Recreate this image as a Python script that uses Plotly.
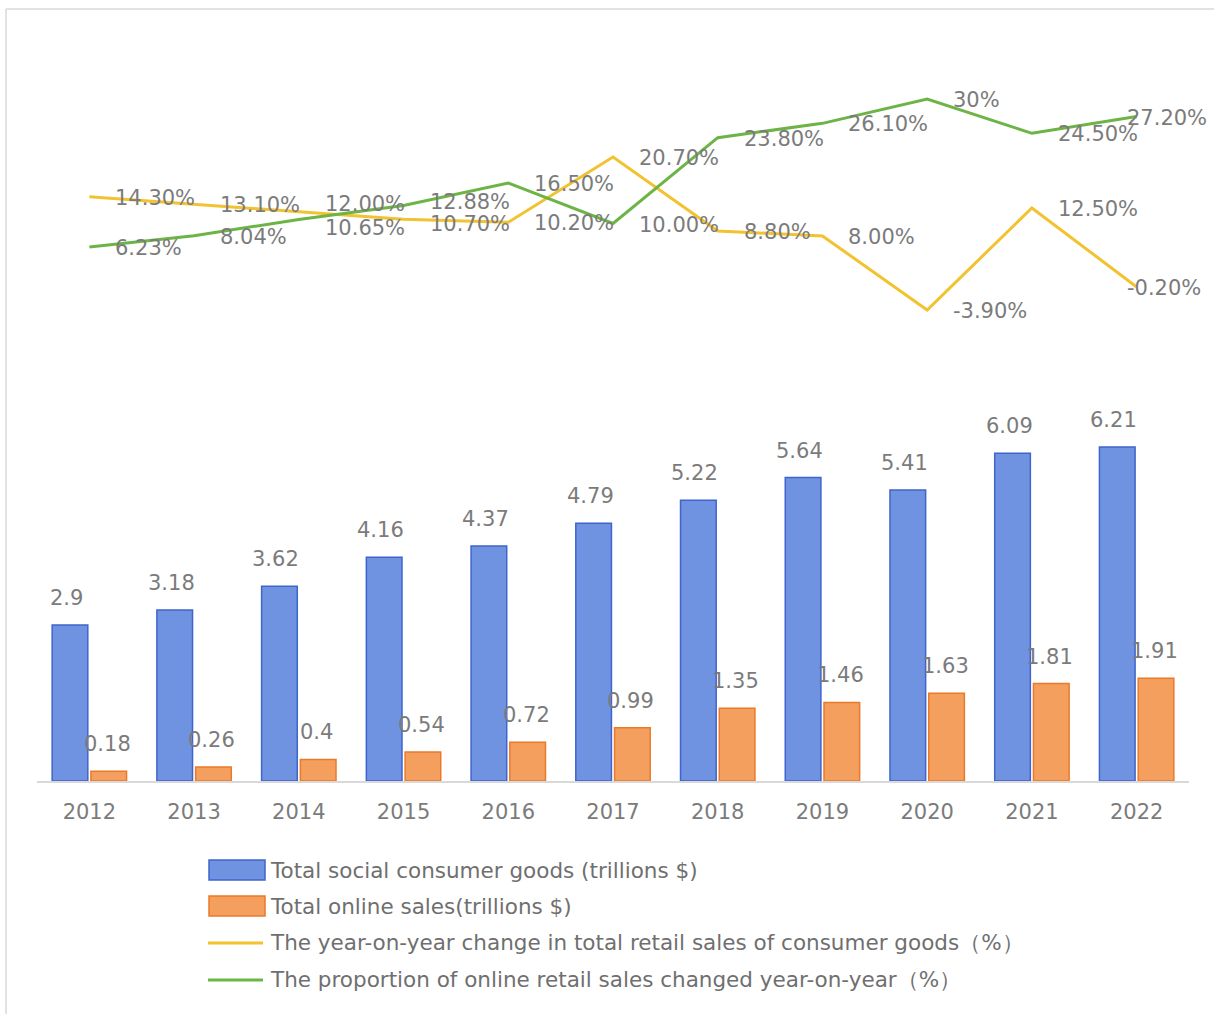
import plotly.graph_objects as go

years = ["2012", "2013", "2014", "2015", "2016", "2017", "2018", "2019", "2020", "2021", "2022"]
total_goods = [2.9, 3.18, 3.62, 4.16, 4.37, 4.79, 5.22, 5.64, 5.41, 6.09, 6.21]
online_sales = [0.18, 0.26, 0.4, 0.54, 0.72, 0.99, 1.35, 1.46, 1.63, 1.81, 1.91]
retail_yoy = [14.30, 13.10, 12.00, 10.70, 10.20, 20.70, 8.80, 8.00, -3.90, 12.50, -0.20]
online_share_yoy = [6.23, 8.04, 10.65, 12.88, 16.50, 10.00, 23.80, 26.10, 30.00, 24.50, 27.20]
retail_yoy_labels = ["14.30%", "13.10%", "12.00%", "10.70%", "10.20%", "20.70%", "8.80%", "8.00%", "-3.90%", "12.50%", "-0.20%"]
online_share_labels = ["6.23%", "8.04%", "10.65%", "12.88%", "16.50%", "10.00%", "23.80%", "26.10%", "30%", "24.50%", "27.20%"]

names = [
    "Total social consumer goods (trillions $)",
    "Total online sales(trillions $)",
    "The year-on-year change in total retail sales of consumer goods\uff08%\uff09",
    "The proportion of online retail sales changed year-on-year\uff08%\uff09",
]

W, H = 1218, 1014
ML, MR, MT, MB = 37, 29, 60, 233
plot_h = H - MT - MB
plot_w = W - ML - MR
cat_w = plot_w / len(years)

# bar axis: 53.8 px per unit, zero at bottom of plot
bar_px = 53.8
bar_range = [0, plot_h / bar_px]
# line axis: 6.22 px per %, zero at y=285.7 px
line_px = 6.22
zero_y = 285.7
line_top = (zero_y - MT) / line_px
line_bot = -((H - MB) - zero_y) / line_px

GREY = "#7b7b7b"
FONT = "DejaVu Sans"
BLUE = "#6f93e1"
BLUE_EDGE = "#3f64cc"
ORANGE = "#f49f5e"
ORANGE_EDGE = "#ea7a2a"
YELLOW = "#f2c230"
GREEN = "#6db446"

fig = go.Figure()
fig.add_trace(go.Bar(x=years, y=total_goods, name=names[0],
                     marker=dict(color=BLUE, line=dict(color=BLUE_EDGE, width=1.5)),
                     yaxis="y", showlegend=False))
fig.add_trace(go.Bar(x=years, y=online_sales, name=names[1],
                     marker=dict(color=ORANGE, line=dict(color=ORANGE_EDGE, width=1.5)),
                     yaxis="y", showlegend=False))
fig.add_trace(go.Scatter(x=years, y=retail_yoy, name=names[2], mode="lines",
                         line=dict(color=YELLOW, width=3), yaxis="y2", showlegend=False))
fig.add_trace(go.Scatter(x=years, y=online_share_yoy, name=names[3], mode="lines",
                         line=dict(color=GREEN, width=3), yaxis="y2", showlegend=False))

# small vertical nudges so the crowded 2014/2015 labels stay readable
retail_nudge = [0, 0, 8, -4, 0, 0, 0, 0, 0, 0, 0]
share_nudge = [0, 0, -8, 5, 0, 0, 0, 0, 0, 0, 0]

annotations = []
bar_off = cat_w * 0.19
LBL = dict(family=FONT, size=21, color=GREY)
for i, yr in enumerate(years):
    annotations.append(dict(x=i, y=total_goods[i], xref="x", yref="y", text=str(total_goods[i]),
                            showarrow=False, xanchor="center", yanchor="bottom", xshift=-bar_off - 3,
                            yshift=13, font=LBL))
    annotations.append(dict(x=i, y=online_sales[i], xref="x", yref="y", text=str(online_sales[i]),
                            showarrow=False, xanchor="center", yanchor="bottom", xshift=bar_off - 2,
                            yshift=13, font=LBL))
    xs = 24 if i < len(years) - 1 else -12
    annotations.append(dict(x=i, y=retail_yoy[i], xref="x", yref="y2", text=retail_yoy_labels[i],
                            showarrow=False, xanchor="left", yanchor="middle", xshift=xs,
                            yshift=-1 + retail_nudge[i], font=LBL))
    annotations.append(dict(x=i, y=online_share_yoy[i], xref="x", yref="y2", text=online_share_labels[i],
                            showarrow=False, xanchor="left", yanchor="middle", xshift=xs,
                            yshift=-1 + share_nudge[i], font=LBL))

# custom legend (paper coordinates)
def px_x(p):
    return (p - ML) / plot_w

def px_y(p):
    return (H - MB - p) / plot_h

shapes = []
legend_rows = [870, 906, 943, 980]
for k, yc in enumerate(legend_rows):
    if k < 2:
        fill, edge = (BLUE, BLUE_EDGE) if k == 0 else (ORANGE, ORANGE_EDGE)
        shapes.append(dict(type="rect", xref="paper", yref="paper",
                           x0=px_x(209), x1=px_x(265), y0=px_y(yc - 10), y1=px_y(yc + 10),
                           fillcolor=fill, line=dict(color=edge, width=1.5)))
    else:
        col = YELLOW if k == 2 else GREEN
        shapes.append(dict(type="line", xref="paper", yref="paper",
                           x0=px_x(208), x1=px_x(263), y0=px_y(yc), y1=px_y(yc),
                           line=dict(color=col, width=3)))
    annotations.append(dict(x=px_x(268), y=px_y(yc), xref="paper", yref="paper", text=names[k],
                            showarrow=False, xanchor="left", yanchor="middle",
                            font=dict(family=FONT, size=21.5, color="#6f6f6f")))

# outer frame (top and left edges)
shapes.append(dict(type="line", xref="paper", yref="paper", x0=px_x(6), x1=px_x(1214),
                   y0=px_y(9), y1=px_y(9), line=dict(color="#e2e2e2", width=2)))
shapes.append(dict(type="line", xref="paper", yref="paper", x0=px_x(6), x1=px_x(6),
                   y0=px_y(9), y1=px_y(1014), line=dict(color="#e2e2e2", width=2)))

fig.update_layout(
    width=W, height=H,
    margin=dict(l=ML, r=MR, t=MT, b=MB),
    paper_bgcolor="white", plot_bgcolor="white",
    barmode="group", bargap=0.26, bargroupgap=0.08,
    font=dict(family=FONT, size=21, color=GREY),
    xaxis=dict(type="category", range=[-0.5, len(years) - 0.5], autorange=False,
               showgrid=False, showline=True, linecolor="#d9d9d9", linewidth=1.5,
               ticks="", tickfont=dict(family=FONT, size=21, color=GREY), ticklabelstandoff=11),
    yaxis=dict(range=bar_range, visible=False, showgrid=False, zeroline=False),
    yaxis2=dict(range=[line_bot, line_top], overlaying="y", visible=False, showgrid=False, zeroline=False),
    annotations=annotations,
    shapes=shapes,
    showlegend=False,
)

fig.write_html("out.html")
